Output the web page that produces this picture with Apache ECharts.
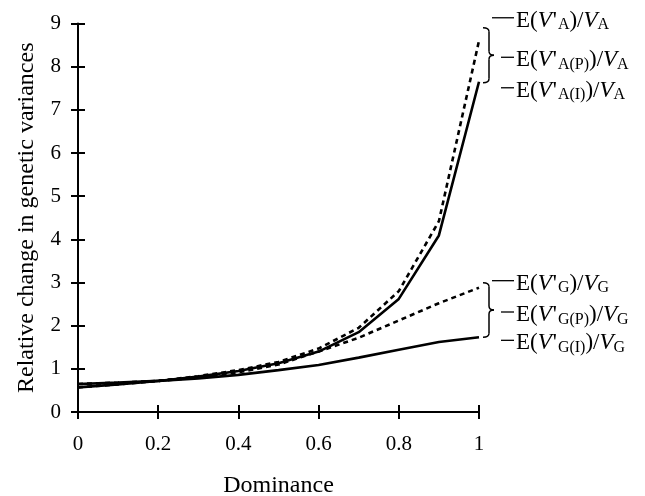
<!DOCTYPE html>
<html>
<head>
<meta charset="utf-8">
<script src="https://cdn.jsdelivr.net/npm/echarts@6/dist/echarts.min.js"></script>
<style>
  html, body { margin: 0; padding: 0; background: #fff; }
  #chart { width: 645px; height: 496px; }
</style>
</head>
<body>
<div id="chart"></div>
<script>
// Dominance levels (x) and relative change in genetic variances (y)
const dominance = [0, 0.1, 0.2, 0.3, 0.4, 0.5, 0.6, 0.7, 0.8, 0.9, 1.0];
// additive variance: total (dashed) and the I component (solid)
const vaTotal = [0.57, 0.64, 0.72, 0.83, 0.97, 1.16, 1.47, 1.95, 2.80, 4.42, 8.60];
const vaI     = [0.57, 0.64, 0.72, 0.82, 0.95, 1.13, 1.40, 1.85, 2.62, 4.09, 7.65];
// genotypic variance: total (dashed) and the I component (solid)
const vgTotal = [0.65, 0.68, 0.72, 0.80, 0.92, 1.10, 1.40, 1.72, 2.12, 2.52, 2.88];
const vgI     = [0.65, 0.68, 0.72, 0.78, 0.86, 0.97, 1.09, 1.26, 1.44, 1.62, 1.73];

const xTicks = [0, 0.2, 0.4, 0.6, 0.8, 1];
const yTicks = [0, 1, 2, 3, 4, 5, 6, 7, 8, 9];

const SERIF = '"Liberation Serif", "DejaVu Serif", serif';

function pairs(ys) { return dominance.map((x, i) => [x, ys[i]]); }

const chart = echarts.init(document.getElementById('chart'), null, { renderer: 'canvas' });

const axisLine = { show: true, lineStyle: { color: '#000', width: 2 } };
const tickOut = { show: true, inside: false, length: 7, lineStyle: { color: '#000', width: 2 } };
const tickIn = { show: true, inside: true, length: 7, lineStyle: { color: '#000', width: 2 } };

const lineSeries = (name, ys, dashed) => ({
  name, type: 'line', data: pairs(ys), symbol: 'none', smooth: false,
  xAxisIndex: 0, yAxisIndex: 0, animation: false,
  lineStyle: { color: '#000', width: 2.6, type: dashed ? [5, 4] : 'solid', cap: 'butt' },
  z: dashed ? 3 : 4
});

chart.setOption({
  animation: false,
  backgroundColor: '#fff',
  grid: { left: 78, right: 166, top: 23.5, bottom: 84, containLabel: false, outerBoundsMode: 'none' },
  xAxis: [
    {
      type: 'value', min: xTicks[0], max: xTicks[xTicks.length - 1], interval: 0.2,
      name: 'Dominance', nameLocation: 'middle', nameGap: 62,
      nameTextStyle: { fontFamily: SERIF, fontSize: 24, color: '#000' },
      axisLine, axisTick: tickOut, splitLine: { show: false },
      axisLabel: { fontFamily: SERIF, fontSize: 21, color: '#000', margin: 22,
                   formatter: v => String(+v.toFixed(1)) }
    },
    {
      type: 'value', min: 0, max: 1, interval: 0.2, position: 'bottom',
      axisLine: { show: false }, axisTick: tickIn, axisLabel: { show: false }, splitLine: { show: false }
    }
  ],
  yAxis: [
    {
      type: 'value', min: yTicks[0], max: yTicks[yTicks.length - 1], interval: 1,
      name: 'Relative change in genetic variances', nameLocation: 'middle', nameGap: 39,
      nameTextStyle: { fontFamily: SERIF, fontSize: 24, color: '#000' },
      axisLine, axisTick: tickOut, splitLine: { show: false },
      axisLabel: { fontFamily: SERIF, fontSize: 21, color: '#000', margin: 17 }
    },
    {
      type: 'value', min: 0, max: 9, interval: 1, position: 'left',
      axisLine: { show: false }, axisTick: tickIn, axisLabel: { show: false }, splitLine: { show: false }
    }
  ],
  series: [
    lineSeries('E(V\'A)/VA', vaTotal, true),
    lineSeries('E(V\'A(I))/VA', vaI, false),
    lineSeries('E(V\'G)/VG', vgTotal, true),
    lineSeries('E(V\'G(I))/VG', vgI, false)
  ]
});

// Braces and labels at the right-hand ends of the curves
const rich = {
  n: { fontFamily: SERIF, fontSize: 23, lineHeight: 25, color: '#000' },
  i: { fontFamily: SERIF, fontSize: 23, lineHeight: 25, fontStyle: 'italic', color: '#000' },
  p: { fontFamily: SERIF, fontSize: 23, lineHeight: 25, color: '#000', padding: [0, 1, 0, 1] },
  s: { fontFamily: SERIF, fontSize: 16, verticalAlign: 'bottom', color: '#000' }
};
function label(letter, sub) {
  return '{n|E(}{i|V}{p|\'}{s|' + sub + '}{n|)/}{i|V}{s|' + letter + '}';
}

const groups = [
  { letter: 'A', hi: vaTotal, lo: vaI, padTop: 13, padBot: 1, offTop: -10, offBot: 5 },
  { letter: 'G', hi: vgTotal, lo: vgI, padTop: 5, padBot: 0, offTop: -2, offBot: 3 }
];

const braceStyle = { fill: 'none', stroke: '#000', lineWidth: 1.5 };
const curve = (x1, y1, cx, cy, x2, y2) => ({
  type: 'bezierCurve', silent: true,
  shape: { x1, y1, cpx1: cx, cpy1: cy, x2, y2 }, style: braceStyle
});
const seg = (x1, y1, x2, y2, w) => ({
  type: 'line', silent: true, shape: { x1, y1, x2, y2 },
  style: { stroke: '#000', lineWidth: w || 1.5 }
});

const graphics = [];
const last = dominance.length - 1;
groups.forEach(g => {
  const pHi = chart.convertToPixel({ gridIndex: 0 }, [dominance[last], g.hi[last]]);
  const pLo = chart.convertToPixel({ gridIndex: 0 }, [dominance[last], g.lo[last]]);
  const x0 = pHi[0] + 4, x1 = pHi[0] + 10, x2 = pHi[0] + 15;
  const top = pHi[1] - g.padTop, bot = pLo[1] + g.padBot, mid = (top + bot) / 2;
  const r = 4;
  graphics.push(
    curve(x0, top, x1, top, x1, top + r),
    seg(x1, top + r, x1, mid - r),
    curve(x1, mid - r, x1, mid, x2, mid),
    curve(x2, mid, x1, mid, x1, mid + r),
    seg(x1, mid + r, x1, bot - r),
    curve(x1, bot - r, x1, bot, x0, bot)
  );
  const textX = pHi[0] + 37;
  const rows = [
    { y: top + g.offTop, dashFrom: pHi[0] + 13, sub: g.letter },
    { y: mid + 2, dashFrom: pHi[0] + 22, sub: g.letter + '(P)' },
    { y: bot + g.offBot, dashFrom: pHi[0] + 22, sub: g.letter + '(I)' }
  ];
  rows.forEach(row => {
    graphics.push(seg(row.dashFrom, row.y, textX - 2, row.y, 1.3));
    graphics.push({
      type: 'text', silent: true, x: textX, y: row.y + 3,
      style: { text: label(g.letter, row.sub), rich, align: 'left', verticalAlign: 'middle' }
    });
  });
});
chart.setOption({ graphic: graphics });
</script>
</body>
</html>
